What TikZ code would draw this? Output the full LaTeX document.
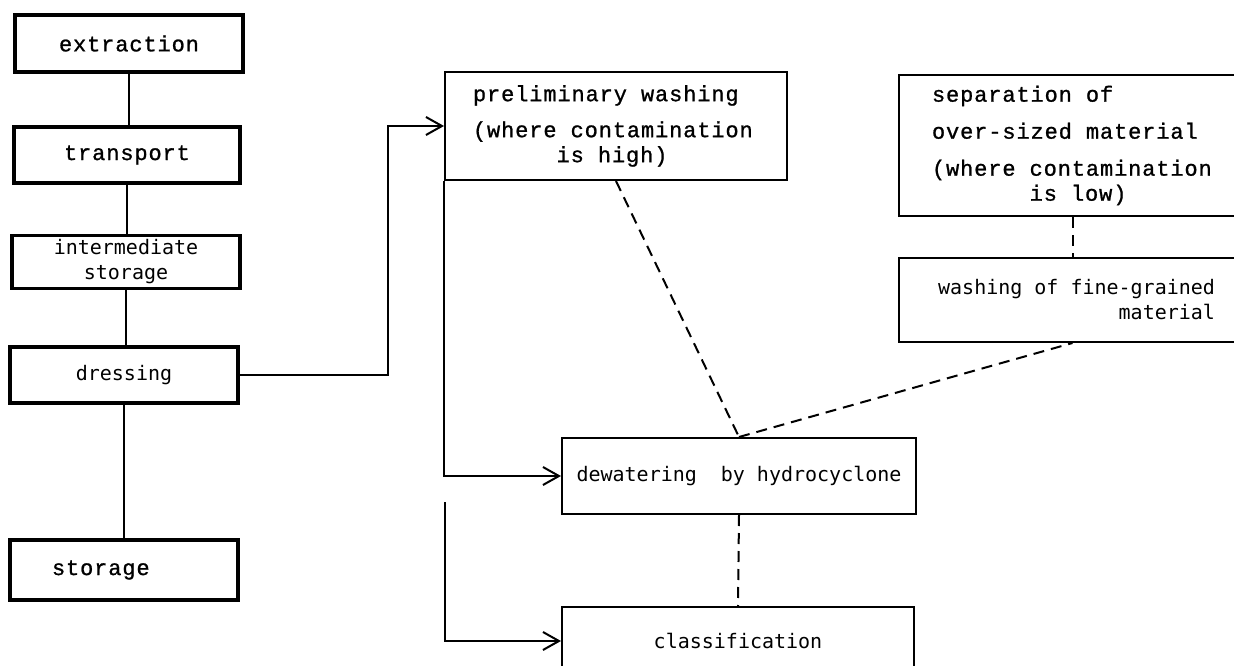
\documentclass[tikz,border=0pt]{standalone}
\usepackage{fontspec}
\usetikzlibrary{arrows.meta}
% two typewriter faces: a wide serif one and a narrow sans one
\newfontfamily\typeA[LetterSpace=4, FakeBold=1]{Liberation Mono}
\newfontfamily\typeB{DejaVu Sans Mono}
% one full character slot of each face
\newcommand\wsp{\hspace{14pt}}
\newcommand\nsp{\hspace{12pt}}

\tikzset{
  thickbox/.style={draw, line width=3.5pt, inner sep=0pt},
  thinbox/.style={draw, line width=2pt, inner sep=0pt},
  wide/.style={font=\typeA\fontsize{22}{25}\selectfont},
  narrow/.style={font=\typeB\fontsize{20}{25}\selectfont},
  link/.style={line width=2pt},
  arr/.style={link, -{Straight Barb[length=16pt,width=18pt,line width=2pt]}},
  dash link/.style={line width=2pt, dash pattern=on 11pt off 7pt}
}

\begin{document}
\begin{tikzpicture}[x=1pt,y=-1pt]
\useasboundingbox (0,0) rectangle (1234,666);
\clip (0,0) rectangle (1234,666);

% main process chain
\node[thickbox, wide, minimum width=228pt, minimum height=57pt] (extraction) at (129,43.5) {extraction};
\node[thickbox, wide, minimum width=226pt, minimum height=56pt] (transport) at (127,155) {transport};
\node[thickbox, narrow, minimum width=228pt, minimum height=53pt, align=center] (interm) at (126,262) {intermediate\\storage};
\node[thickbox, narrow, minimum width=228pt, minimum height=56pt] (dressing) at (124,375) {dressing};
\node[thickbox, wide, minimum width=228pt, minimum height=60pt, text width=144pt, align=left] (storage) at (124,570) {storage};

% dressing steps
\node[thinbox, wide, minimum width=342pt, minimum height=108pt, text width=286pt, align=left] (prelim) at (616,126)
  {preliminary\wsp washing\\[11pt](where\wsp contamination\\\phantom{xxxxxx}is\wsp high)};
\node[thinbox, wide, minimum width=347pt, minimum height=141pt, text width=281pt, align=left] (separation) at (1072.5,145.5)
  {separation\wsp of\\[12pt]over-sized\wsp material\\[12pt](where\wsp contamination\\\phantom{xxxxxxx}is\wsp low)};
\node[thinbox, narrow, minimum width=347pt, minimum height=84pt, text width=285pt, align=right] (washing) at (1072.5,300)
  {washing\nsp of\nsp fine-grained\\material};
\node[thinbox, narrow, minimum width=354pt, minimum height=76pt] (dewater) at (739,476) {dewatering\nsp\nsp by\nsp hydrocyclone};
\node[thinbox, narrow, minimum width=352pt, minimum height=68pt] (classif) at (738,641) {classification};

% chain links
\draw[link] (extraction.south) -- (extraction.south |- transport.north);
\draw[link] (transport.south) -- (transport.south |- interm.north);
\draw[link] (interm.south) -- (interm.south |- dressing.north);
\draw[link] (dressing.south) -- (dressing.south |- storage.north);

% feeds into the dressing steps
\draw[arr] (dressing.east) -- ++(148,0) |- (prelim.west);
\draw[arr] (prelim.south west) |- (dewater.west);
\coordinate (feed) at (445,502);
\draw[arr] (feed) |- (classif.west);

% optional links
\draw[dash link] (prelim.south) -- (dewater.north);
\draw[dash link] (dewater.north) -- (washing.south);
\draw[dash link] (separation.south) -- (washing.north);
\draw[dash link] (dewater.south) -- (classif.north);
\end{tikzpicture}
\end{document}
